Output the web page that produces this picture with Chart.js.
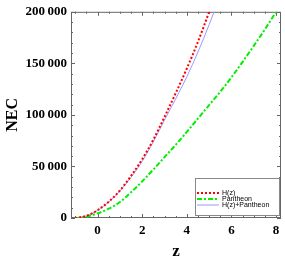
<!DOCTYPE html>
<html>
<head>
<meta charset="utf-8">
<script src="https://cdn.jsdelivr.net/npm/chart.js@4"></script>
<style>
  html, body { margin: 0; padding: 0; background: #fff; }
  #wrap { width: 285px; height: 262px; position: relative; }
</style>
</head>
<body>
<div id="wrap"><canvas id="nec"></canvas></div>
<script>
// values
const zHz = [-1, -0.5, 0, 0.5, 1, 1.5, 2, 2.5, 3, 3.5, 4, 4.5, 5, 5.5];
const necHz = [0, 2100, 7500, 15800, 26700, 40800, 57000, 76000, 98000, 121000, 145000, 171000, 200000, 231000];
const necCombined = [0, 2000, 7400, 15500, 26000, 39500, 55000, 74000, 95000, 115500, 137000, 161000, 187500, 216000];

const zPantheon = [-1, -0.5, 0, 0.5, 1, 1.5, 2, 2.5, 3, 3.5, 4, 4.5, 5, 5.5, 6, 6.5, 7, 7.5, 8];
const necPantheon = [0, 1300, 4500, 9000, 15500, 25000, 35500, 47000, 59000, 71000, 83500, 96500, 109500, 122500, 136500, 151500, 167000, 183000, 200000];

const xTicks = [0, 2, 4, 6, 8];
const yTicks = [0, 50000, 100000, 150000, 200000];

const seriesLabels = ['H(z)', 'Pantheon', 'H(z)+Pantheon'];

function toPoints(xs, ys) {
  return xs.map((x, i) => ({ x: x, y: ys[i] }));
}

function formatThousands(v) {
  return String(v).replace(/\B(?=(\d{3})+(?!\d))/g, '\u2009');
}

const serif = "'Liberation Serif', 'Times New Roman', serif";

// Mathematica style frame with inward ticks on all four sides
const framePlugin = {
  id: 'frame',
  beforeDatasetsDraw(chart) {
    const { ctx, chartArea: a, scales } = chart;
    const x = scales.x;
    const y = scales.y;
    ctx.save();
    ctx.strokeStyle = '#666';
    ctx.lineWidth = 1;
    ctx.strokeRect(a.left + 0.5, a.top + 0.5, a.right - a.left - 1, a.bottom - a.top - 1);
    ctx.beginPath();
    for (let v = -1; v <= 8.2; v += 0.5) {
      const px = Math.round(x.getPixelForValue(v)) + 0.5;
      const len = Number.isInteger(v / 2) ? 4 : 2;
      ctx.moveTo(px, a.bottom);
      ctx.lineTo(px, a.bottom - len);
      ctx.moveTo(px, a.top);
      ctx.lineTo(px, a.top + len);
    }
    for (let v = 0; v <= 200000; v += 10000) {
      const py = Math.round(y.getPixelForValue(v)) + 0.5;
      const len = v % 50000 === 0 ? 4 : 2;
      ctx.moveTo(a.left, py);
      ctx.lineTo(a.left + len, py);
      ctx.moveTo(a.right, py);
      ctx.lineTo(a.right - len, py);
    }
    ctx.stroke();
    ctx.restore();
  },
};

// boxed legend in the lower right corner
const legendBoxPlugin = {
  id: 'legendBox',
  afterDraw(chart) {
    const { ctx } = chart;
    const left = 195;
    const top = 178;
    const right = 279;
    const bottom = 215;
    ctx.save();
    ctx.fillStyle = '#fff';
    ctx.fillRect(left, top, right - left, bottom - top);
    ctx.strokeStyle = '#888';
    ctx.lineWidth = 1;
    ctx.strokeRect(left + 0.5, top + 0.5, right - left, bottom - top);
    chart.data.datasets.forEach((ds, i) => {
      const rowY = 193 + i * 6;
      ctx.beginPath();
      ctx.strokeStyle = ds.borderColor;
      ctx.lineWidth = ds.borderWidth;
      ctx.setLineDash(ds.borderDash || []);
      ctx.moveTo(197, rowY);
      ctx.lineTo(219, rowY);
      ctx.stroke();
      ctx.setLineDash([]);
      ctx.fillStyle = '#000';
      ctx.font = "7px 'Liberation Sans', Arial, sans-serif";
      ctx.textBaseline = 'middle';
      ctx.fillText(ds.label, 222, rowY);
    });
    ctx.restore();
  },
};

const chart = new Chart(document.getElementById('nec'), {
  type: 'line',
  data: {
    datasets: [
      {
        label: seriesLabels[0],
        data: toPoints(zHz, necHz),
        borderColor: '#ff0000',
        borderWidth: 2,
        borderDash: [2, 2],
      },
      {
        label: seriesLabels[1],
        data: toPoints(zPantheon, necPantheon),
        borderColor: '#00ee00',
        borderWidth: 2,
        borderDash: [5, 2, 2, 2],
      },
      {
        label: seriesLabels[2],
        data: toPoints(zHz, necCombined),
        borderColor: '#9999ff',
        borderWidth: 1,
      },
    ],
  },
  options: {
    responsive: true,
    maintainAspectRatio: false,
    animation: false,
    events: [],
    layout: { padding: { top: 8, right: 4, left: 0, bottom: 0 } },
    elements: {
      point: { radius: 0 },
      line: { tension: 0.4, cubicInterpolationMode: 'monotone', fill: false },
    },
    scales: {
      x: {
        type: 'linear',
        min: -1.19,
        max: 8.22,
        afterBuildTicks: (scale) => {
          scale.ticks = xTicks.map((v) => ({ value: v }));
        },
        afterFit: (scale) => {
          scale.height = 44;
        },
        grid: { display: false, drawTicks: false },
        border: { display: false },
        ticks: {
          padding: 5,
          color: '#000',
          maxRotation: 0,
          font: { family: serif, size: 13, weight: 'bold' },
        },
        title: {
          display: true,
          text: 'z',
          color: '#000',
          padding: { top: 0, bottom: 0 },
          font: { family: serif, size: 17, weight: 'bold' },
        },
      },
      y: {
        type: 'linear',
        min: 0,
        max: 200000,
        afterBuildTicks: (scale) => {
          scale.ticks = yTicks.map((v) => ({ value: v }));
        },
        afterFit: (scale) => {
          scale.width = 71;
        },
        grid: { display: false, drawTicks: false },
        border: { display: false },
        ticks: {
          padding: 4,
          color: '#000',
          callback: (v) => formatThousands(v),
          font: { family: serif, size: 13, weight: 'bold' },
        },
        title: {
          display: true,
          text: 'NEC',
          color: '#000',
          padding: { top: 3, bottom: 0 },
          font: { family: serif, size: 16, weight: 'bold' },
        },
      },
    },
    plugins: {
      legend: { display: false },
      tooltip: { enabled: false },
    },
  },
  plugins: [framePlugin, legendBoxPlugin],
});
</script>
</body>
</html>
